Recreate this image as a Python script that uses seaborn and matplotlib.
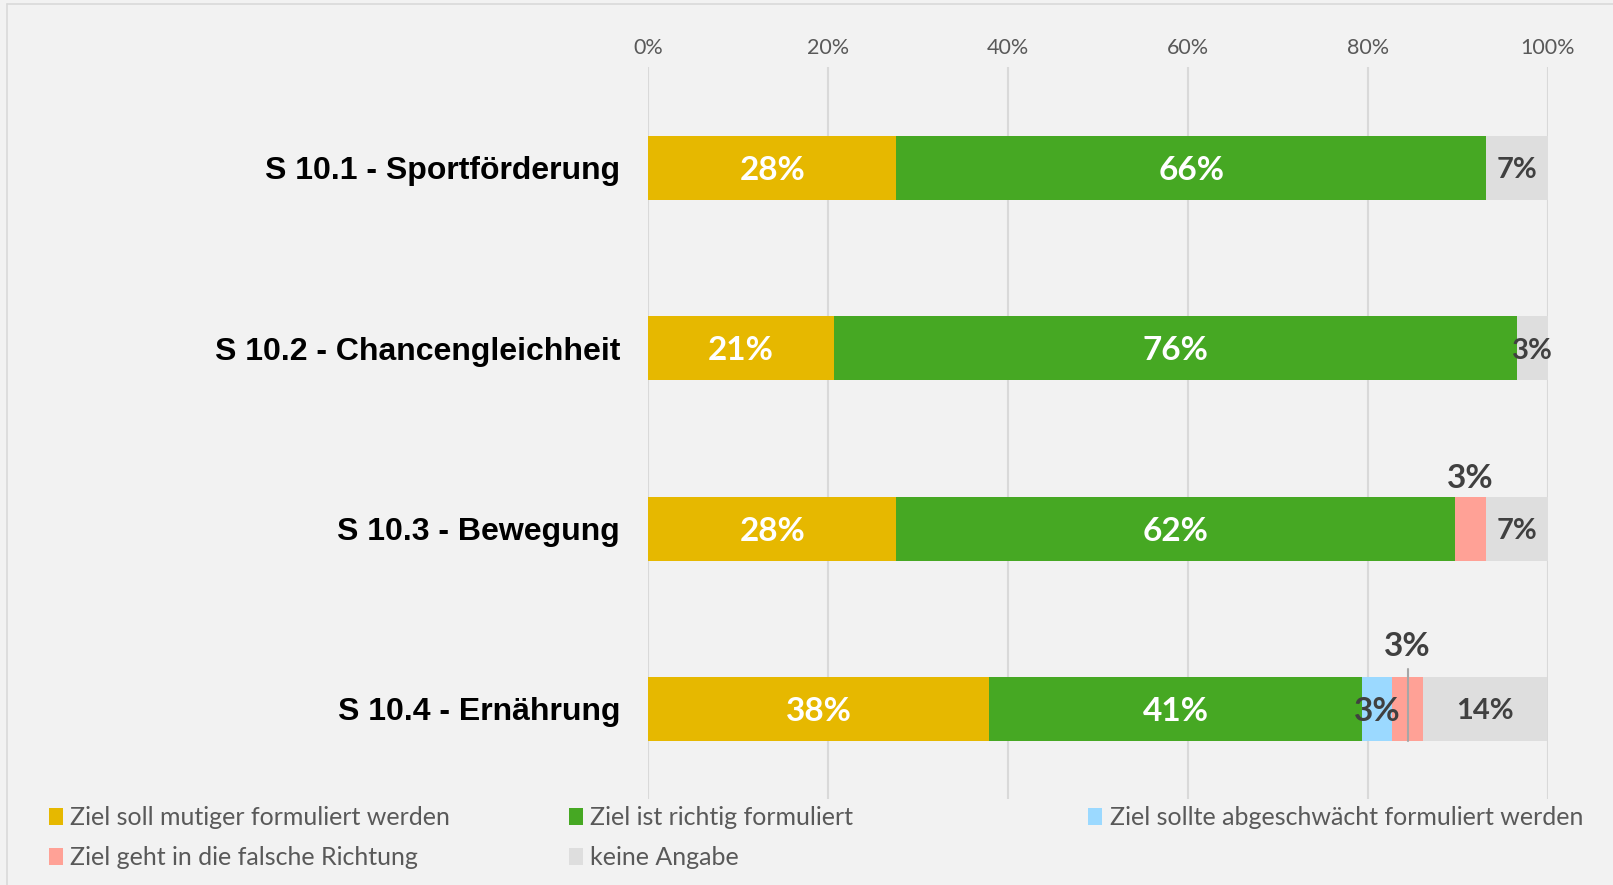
import numpy as np
import pandas as pd
import matplotlib
matplotlib.use("Agg")
import matplotlib.pyplot as plt
from matplotlib.patches import Patch
from matplotlib.lines import Line2D
import seaborn as sns

CATEGORIES = ["S 10.1 - Sportförderung", "S 10.2 - Chancengleichheit",
              "S 10.3 - Bewegung", "S 10.4 - Ernährung"]
SERIES = ["Ziel soll mutiger formuliert werden", "Ziel ist richtig formuliert",
          "Ziel sollte abgeschwächt formuliert werden",
          "Ziel geht in die falsche Richtung", "keine Angabe"]
MUTIGER = [27.6, 20.7, 27.6, 37.9]
RICHTIG = [65.5, 75.9, 62.1, 41.4]
ABGESCHWAECHT = [0.0, 0.0, 0.0, 3.4]
FALSCH = [0.0, 0.0, 3.4, 3.4]
KEINE = [6.9, 3.4, 6.9, 13.8]
X_TICKS = [0, 20, 40, 60, 80, 100]

COLORS = ["#E6B800", "#46A823", "#9BD9FF", "#FFA196", "#DEDEDE"]
BG = "#F2F2F2"
W, H = 1613, 885

sns.set_theme(style="white")
plt.rcParams["font.family"] = ["Lato", "DejaVu Sans"]

values = [MUTIGER, RICHTIG, ABGESCHWAECHT, FALSCH, KEINE]
df = pd.DataFrame({"cat": CATEGORIES})
cums = np.cumsum(np.array(values), axis=0)
for i in range(len(SERIES)):
    df[f"cum{i}"] = cums[i]

fig = plt.figure(figsize=(W / 100, H / 100), dpi=100, facecolor=BG)
ax = fig.add_axes([648 / W, 1 - 799 / H, 900 / W, 732 / H])
ax.set_facecolor(BG)

bar_h = 0.355
# stacked bars: draw cumulative totals from the largest down
for i in reversed(range(len(SERIES))):
    sns.barplot(data=df, x=f"cum{i}", y="cat", color=COLORS[i], width=bar_h,
                saturation=1, linewidth=0, orient="h", ax=ax, zorder=2)

ax.set_xlim(0, 100)
ax.set_ylim(3.5, -0.56)
ax.set_xticks(X_TICKS)
ax.set_xticklabels([f"{t}%" for t in X_TICKS])
ax.xaxis.tick_top()
ax.tick_params(axis="x", length=0, pad=6.5, labelsize=15.5, labelcolor="#595959")
ax.tick_params(axis="y", length=0, pad=20)
for lbl in ax.get_yticklabels():
    lbl.set_fontfamily(["Liberation Sans", "DejaVu Sans"])
    lbl.set_fontweight("bold")
    lbl.set_fontsize(23)
    lbl.set_color("black")
ax.set_xlabel("")
ax.set_ylabel("")
ax.grid(True, axis="x", color="#D9D9D9", linewidth=1.5, zorder=0)
ax.grid(False, axis="y")
ax.set_axisbelow(True)
for s in ax.spines.values():
    s.set_visible(False)

# data labels
dark = "#404040"
for r in range(len(CATEGORIES)):
    for i in range(len(SERIES)):
        v = values[i][r]
        if v <= 0:
            continue
        left = cums[i][r] - v
        xc = left + v / 2
        txt = f"{v:.0f}%"
        kw = dict(ha="center", va="center_baseline", fontweight="bold", zorder=5)
        if i < 2:
            ax.text(xc, r, txt, color="white", fontsize=24, **kw)
        elif i == 3 and r == 2:
            ax.text(xc, r - 0.29, txt, color=dark, fontsize=24, **kw)
        elif i == 3 and r == 3:
            ax.text(xc, r - 0.36, txt, color=dark, fontsize=24, **kw)
            ax.plot([xc, xc], [r - 0.222, r + bar_h / 2], color="#A6A6A6",
                    linewidth=1.5, zorder=4)
        elif i == 2:
            ax.text(xc, r, txt, color=dark, fontsize=24, **kw)
        else:
            ax.text(xc, r, txt, color=dark, fontsize=21, **kw)

# legend in three columns like the original
handles = [Patch(facecolor=c, edgecolor="none") for c in COLORS]
cols = [([0, 3], 49), ([1, 4], 569), ([2], 1088)]
for idx, xpx in cols:
    fig.legend([handles[j] for j in idx], [SERIES[j] for j in idx],
               loc="upper left", bbox_to_anchor=(xpx / W, 1 - 806 / H),
               frameon=False, fontsize=18, labelcolor="#595959",
               handlelength=0.56, handleheight=0.7, handletextpad=0.3,
               labelspacing=0.68, borderpad=0, borderaxespad=0)

# outer frame lines
fig.add_artist(Line2D([7 / W, 7 / W], [0, 1 - 4 / H], transform=fig.transFigure,
                      color="#D9D9D9", linewidth=1.2))
fig.add_artist(Line2D([7 / W, 1], [1 - 4 / H, 1 - 4 / H], transform=fig.transFigure,
                      color="#D9D9D9", linewidth=1.2))

fig.savefig("out.png", dpi=100, facecolor=BG)
